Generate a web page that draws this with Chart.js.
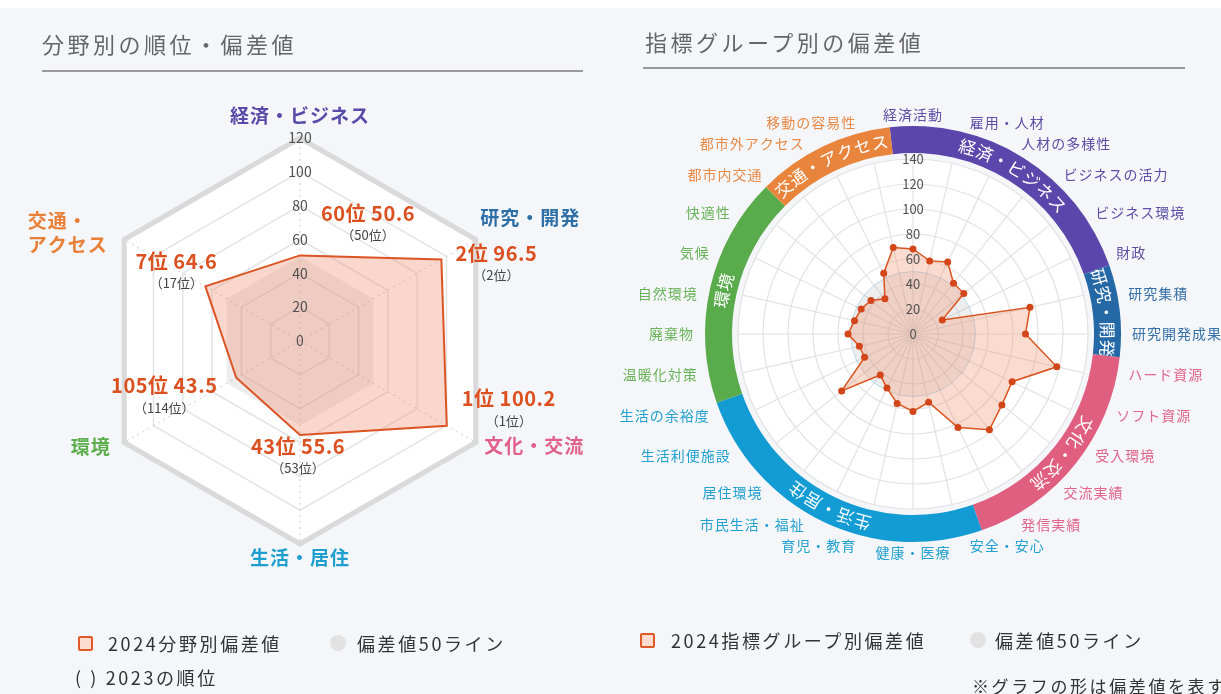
<!DOCTYPE html>
<html lang="ja">
<head>
<meta charset="utf-8">
<title>分野別の順位・偏差値</title>
<script src="https://cdn.jsdelivr.net/npm/chart.js@4.4.1/dist/chart.umd.min.js"></script>
<style>
  html, body { margin: 0; padding: 0; background: #fff; }
  body { width: 1221px; height: 694px; position: relative; overflow: hidden;
         font-family: 'Noto Sans CJK JP', 'Noto Sans', sans-serif; }
  .panel { position: absolute; left: 0; top: 8px; right: 0; bottom: 0; background: #f4f6f9; }
  .box { position: absolute; top: 0; height: 694px; }
  .title { position: absolute; font-size: 22px; color: #666; letter-spacing: 3.5px; line-height: 1; white-space: nowrap; }
  .rule { position: absolute; height: 2px; background: #9a9a9a; }
  .txt { position: absolute; font-size: 18px; color: #333; letter-spacing: 2.6px; line-height: 1; white-space: nowrap; }
  .sq { position: absolute; width: 11px; height: 11px; border: 2px solid #e05a28; background: #fbdccf; border-radius: 2px; }
  .dot { position: absolute; width: 16px; height: 16px; border-radius: 50%; background: #e2e2e2; }
</style>
</head>
<body>
<div class="panel"></div>
<div class="box" style="left:0;width:610px"><canvas id="fieldChart"></canvas></div>
<div class="box" style="left:610px;width:611px"><canvas id="groupChart"></canvas></div>

<div class="title" style="left:42px;top:32px">分野別の順位・偏差値</div>
<div class="rule" style="left:42px;top:70px;width:541px"></div>
<div class="title" style="left:645px;top:30px">指標グループ別の偏差値</div>
<div class="rule" style="left:643px;top:67px;width:542px"></div>

<div class="sq" style="left:78px;top:636px"></div>
<div class="txt" style="left:108px;top:634px">2024分野別偏差値</div>
<div class="dot" style="left:330px;top:635px"></div>
<div class="txt" style="left:357px;top:634px">偏差値50ライン</div>
<div class="txt" style="left:75px;top:668px">( ) 2023の順位</div>

<div class="sq" style="left:640px;top:633px"></div>
<div class="txt" style="left:671px;top:631px">2024指標グループ別偏差値</div>
<div class="dot" style="left:970px;top:632px"></div>
<div class="txt" style="left:995px;top:631px">偏差値50ライン</div>
<div class="txt" style="left:972px;top:677px;font-size:17px">※グラフの形は偏差値を表す</div>

<script>
const FONT = "'Noto Sans CJK JP', 'Noto Sans', sans-serif";

// 分野別
const fieldLabels = ['経済・ビジネス', '研究・開発', '文化・交流', '生活・居住', '環境', '交通・アクセス'];
const fieldScores = [50.6, 96.5, 100.2, 55.6, 43.5, 64.6];
const fieldRanks2024 = [60, 2, 1, 43, 105, 7];
const fieldRanks2023 = [50, 2, 1, 53, 114, 17];
const fieldColors = ['#5a4aa8', '#2e6fa7', '#e0608a', '#1e9fcf', '#5cae4c', '#e9803a'];
const fieldMax = 120;
const fieldStep = 20;

// 指標グループ別
const groupNames = ['経済・ビジネス', '研究・開発', '文化・交流', '生活・居住', '環境', '交通・アクセス'];
const groupSizes = [6, 2, 5, 7, 5, 3];
const groupColors = ['#5b46ab', '#2469a5', '#e05f80', '#139bd4', '#59ab4c', '#e9843c'];
const groupTextColors = ['#5c4fa6', '#3670a8', '#e0658a', '#22a0cf', '#6ab25a', '#e88a48'];
const indicatorLabels = [
  '経済活動', '雇用・人材', '人材の多様性', 'ビジネスの活力', 'ビジネス環境', '財政',
  '研究集積', '研究開発成果',
  'ハード資源', 'ソフト資源', '受入環境', '交流実績', '発信実績',
  '安全・安心', '健康・医療', '育児・教育', '市民生活・福祉', '居住環境', '生活利便施設', '生活の余裕度',
  '温暖化対策', '廃棄物', '自然環境', '気候', '快適性',
  '都市内交通', '都市外アクセス', '移動の容易性'
];
const indicatorScores = [
  68, 60, 64, 52, 52, 26,
  96, 90,
  118, 88, 91, 98, 83,
  56, 62, 57, 48, 42, 73, 43,
  44, 52, 48, 46, 43,
  36, 54, 71
];
const groupMax = 140;
const groupStep = 20;

const baseValue = 50;

// group index of every indicator
const indicatorGroup = [];
groupSizes.forEach((n, g) => { for (let k = 0; k < n; k++) indicatorGroup.push(g); });

function zeroTick(chart, size) {
  const s = chart.scales.r, ctx = chart.ctx;
  ctx.save();
  ctx.font = size + 'px ' + FONT;
  ctx.fillStyle = '#555';
  ctx.textAlign = 'center';
  ctx.textBaseline = 'middle';
  ctx.fillText('0', s.xCenter, s.yCenter);
  ctx.restore();
}

// 六角形の背景・分野名・順位ラベル
const rankOffsets = [[68, -42], [55, -6], [62, -27], [-2, 11], [-72, 8], [-29, -25]];
const fieldNudge = [[0, -3], [-12, -12], [-8, -6], [0, -5], [3, -5], [0, 3]];

const fieldDecor = {
  id: 'fieldDecor',
  beforeDraw(chart) {
    const s = chart.scales.r, ctx = chart.ctx;
    ctx.save();
    ctx.beginPath();
    fieldLabels.forEach((_, i) => {
      const p = s.getPointPosition(i, s.drawingArea);
      if (i) ctx.lineTo(p.x, p.y); else ctx.moveTo(p.x, p.y);
    });
    ctx.closePath();
    ctx.fillStyle = '#fff';
    ctx.fill();
    ctx.restore();
  },
  afterDraw(chart) {
    const s = chart.scales.r, ctx = chart.ctx;
    zeroTick(chart, 14);
    ctx.save();
    ctx.letterSpacing = '1px';
    // 分野名
    ctx.font = 'bold 19px ' + FONT;
    ctx.textBaseline = 'middle';
    fieldLabels.forEach((label, i) => {
      const a = s.getIndexAngle(i);
      const R = s.drawingArea + 19;
      let x = s.xCenter + R * Math.sin(a) + fieldNudge[i][0];
      let y = s.yCenter - R * Math.cos(a) + fieldNudge[i][1];
      const lines = label === '交通・アクセス' ? ['交通・', 'アクセス'] : [label];
      const w = Math.max(...lines.map(t => ctx.measureText(t).width));
      let left;
      if (Math.sin(a) > 0.05) left = x;
      else if (Math.sin(a) < -0.05) left = x - w;
      else left = x - w / 2;
      ctx.fillStyle = fieldColors[i];
      ctx.textAlign = 'left';
      const lh = 24;
      lines.forEach((t, k) => {
        const lx = lines.length === 1 ? left + (w - ctx.measureText(t).width) / 2 : left;
        ctx.fillText(t, lx, y + (k - (lines.length - 1) / 2) * lh);
      });
    });
    // 順位と偏差値
    ctx.textAlign = 'center';
    fieldScores.forEach((v, i) => {
      const p = s.getPointPosition(i, s.getDistanceFromCenterForValue(v));
      const x = p.x + rankOffsets[i][0];
      const y = p.y + rankOffsets[i][1];
      ctx.font = 'bold 20px ' + FONT;
      ctx.letterSpacing = '0.5px';
      ctx.fillStyle = '#dc5020';
      ctx.fillText(fieldRanks2024[i] + '位 ' + v.toFixed(1), x, y);
      ctx.font = '13px ' + FONT;
      ctx.letterSpacing = '0px';
      ctx.fillStyle = '#444';
      ctx.fillText('（' + fieldRanks2023[i] + '位）', x, y + 22);
    });
    ctx.restore();
  }
};

new Chart(document.getElementById('fieldChart').getContext('2d'), {
  type: 'radar',
  data: {
    labels: fieldLabels,
    datasets: [{
      label: '2024分野別偏差値',
      data: fieldScores,
      borderColor: '#dc5424',
      borderWidth: 2,
      backgroundColor: 'rgba(238,150,120,0.38)',
      pointRadius: 0,
      tension: 0
    }, {
      label: '偏差値50ライン',
      data: fieldLabels.map(() => baseValue),
      borderWidth: 0,
      backgroundColor: 'rgba(150,150,150,0.17)',
      pointRadius: 0
    }]
  },
  options: {
    responsive: true,
    maintainAspectRatio: false,
    animation: false,
    layout: { padding: { left: 88, right: 98, top: 126, bottom: 138 } },
    plugins: { legend: { display: false }, tooltip: { enabled: false } },
    scales: {
      r: {
        min: 0,
        max: fieldMax,
        ticks: { stepSize: fieldStep, z: 1, showLabelBackdrop: false, color: '#505050', font: { size: 14, family: FONT } },
        grid: {
          color: c => c.tick && c.tick.value === fieldMax ? '#dadada' : '#e3e3e3',
          lineWidth: c => c.tick && c.tick.value === fieldMax ? 5 : 1.5
        },
        angleLines: { color: '#cdcdcd', borderDash: [2, 4] },
        pointLabels: { display: false }
      }
    }
  },
  plugins: [fieldDecor]
});

// 円形の背景・グループ帯・指標名
const groupDecor = {
  id: 'groupDecor',
  beforeDraw(chart) {
    const s = chart.scales.r, ctx = chart.ctx;
    ctx.save();
    ctx.beginPath();
    ctx.arc(s.xCenter, s.yCenter, s.drawingArea, 0, Math.PI * 2);
    ctx.fillStyle = '#fff';
    ctx.fill();
    ctx.restore();
  },
  afterDraw(chart) {
    const s = chart.scales.r, ctx = chart.ctx;
    const n = indicatorLabels.length;
    const step = Math.PI * 2 / n;
    const r0 = s.drawingArea + 6, r1 = s.drawingArea + 33, rt = (r0 + r1) / 2;
    zeroTick(chart, 13);
    ctx.save();
    let start = 0;
    groupSizes.forEach((size, g) => {
      const a0 = (start - 0.5) * step, a1 = (start + size - 0.5) * step;
      ctx.beginPath();
      ctx.arc(s.xCenter, s.yCenter, r1, a0 - Math.PI / 2, a1 - Math.PI / 2);
      ctx.arc(s.xCenter, s.yCenter, r0, a1 - Math.PI / 2, a0 - Math.PI / 2, true);
      ctx.closePath();
      ctx.fillStyle = groupColors[g];
      ctx.fill();

      // 帯の上の文字
      ctx.font = '17px ' + FONT;
      ctx.fillStyle = '#fff';
      ctx.textAlign = 'center';
      ctx.textBaseline = 'middle';
      const chars = Array.from(groupNames[g]);
      const widths = chars.map(ch => ctx.measureText(ch).width + 1);
      const total = widths.reduce((a, b) => a + b, 0);
      let acc = (a0 + a1) / 2 - total / rt / 2;
      chars.forEach((ch, k) => {
        const th = acc + widths[k] / 2 / rt;
        ctx.save();
        ctx.translate(s.xCenter, s.yCenter);
        ctx.rotate(th);
        ctx.fillText(ch, 0, -rt);
        ctx.restore();
        acc += widths[k] / rt;
      });
      start += size;
    });

    // 指標名
    ctx.font = '14px ' + FONT;
    ctx.letterSpacing = '1px';
    ctx.textBaseline = 'middle';
    const R = s.drawingArea + 44;
    const k = 5 * Math.PI / 180;
    indicatorLabels.forEach((label, i) => {
      const a = s.getIndexAngle(i);
      const b = a + k * Math.sin(2 * a);
      const x = s.xCenter + R * Math.sin(b);
      const y = s.yCenter - R * Math.cos(b);
      ctx.textAlign = Math.sin(b) > 0.05 ? 'left' : (Math.sin(b) < -0.05 ? 'right' : 'center');
      ctx.fillStyle = groupTextColors[indicatorGroup[i]];
      ctx.fillText(label, x, y);
    });
    ctx.restore();
  }
};

new Chart(document.getElementById('groupChart').getContext('2d'), {
  type: 'radar',
  data: {
    labels: indicatorLabels,
    datasets: [{
      label: '2024指標グループ別偏差値',
      data: indicatorScores,
      borderColor: '#d9531e',
      borderWidth: 1.5,
      backgroundColor: 'rgba(236,150,118,0.34)',
      pointRadius: 3.5,
      pointBorderWidth: 0,
      pointBackgroundColor: '#d2461a',
      tension: 0
    }, {
      label: '偏差値50ライン',
      data: indicatorLabels.map(() => baseValue),
      borderColor: 'rgba(160,205,230,0.7)',
      borderWidth: 1,
      backgroundColor: 'rgba(150,150,150,0.16)',
      pointRadius: 0
    }]
  },
  options: {
    responsive: true,
    maintainAspectRatio: false,
    animation: false,
    layout: { padding: { left: 119, right: 124, top: 147, bottom: 172 } },
    plugins: { legend: { display: false }, tooltip: { enabled: false } },
    scales: {
      r: {
        min: 0,
        max: groupMax,
        ticks: { stepSize: groupStep, z: 1, showLabelBackdrop: false, color: '#505050', font: { size: 13, family: FONT } },
        grid: { circular: true, color: '#e2e2e2', lineWidth: 1.2 },
        angleLines: { color: '#e2e2e2', lineWidth: 1.2 },
        pointLabels: { display: false }
      }
    }
  },
  plugins: [groupDecor]
});
</script>
</body>
</html>
